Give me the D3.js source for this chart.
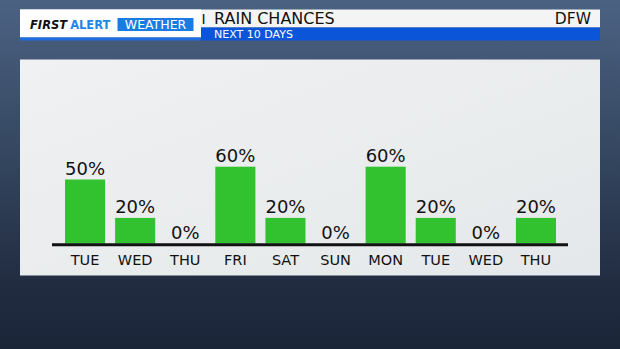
<!DOCTYPE html>
<meta charset="utf-8">
<style>
body { margin: 0; background: #2a3850; }
svg { display: block; font-family: "DejaVu Sans", sans-serif; }
</style>
<body>
<script src="https://d3js.org/d3.v7.min.js"></script>
<script>
    // data
    var days = ["TUE", "WED", "THU", "FRI", "SAT", "SUN", "MON", "TUE", "WED", "THU"];
    var chances = [50, 20, 0, 60, 20, 0, 60, 20, 0, 20];
    var title = "RAIN CHANCES";
    var subtitle = "NEXT 10 DAYS";
    var place = "DFW";

    var W = 620, H = 349;

    var svg = d3.select("body").append("svg")
        .attr("width", W)
        .attr("height", H);

    var defs = svg.append("defs");
    var bg = defs.append("linearGradient")
        .attr("id", "bg")
        .attr("x1", 0).attr("y1", 0).attr("x2", 0).attr("y2", 1);
    bg.append("stop").attr("offset", "0%").attr("stop-color", "#4c6283");
    bg.append("stop").attr("offset", "45%").attr("stop-color", "#34465f");
    bg.append("stop").attr("offset", "80%").attr("stop-color", "#222d42");
    bg.append("stop").attr("offset", "100%").attr("stop-color", "#1b2538");

    var panelGrad = defs.append("linearGradient")
        .attr("id", "panel")
        .attr("x1", 0).attr("y1", 0).attr("x2", 1).attr("y2", 1);
    panelGrad.append("stop").attr("offset", "0%").attr("stop-color", "#eff1f2");
    panelGrad.append("stop").attr("offset", "100%").attr("stop-color", "#e5e8ea");

    svg.append("rect")
        .attr("width", W)
        .attr("height", H)
        .attr("fill", "url(#bg)");

    // header bar
    svg.append("rect")
        .attr("x", 20).attr("y", 9.5)
        .attr("width", 580).attr("height", 18)
        .attr("fill", "#f4f4f4");
    svg.append("rect")
        .attr("x", 20).attr("y", 9.5)
        .attr("width", 181).attr("height", 28)
        .attr("fill", "#ffffff");
    svg.append("rect")
        .attr("x", 20).attr("y", 37.5)
        .attr("width", 181).attr("height", 3)
        .attr("fill", "#1a6ee0");
    svg.append("rect")
        .attr("x", 201).attr("y", 27.5)
        .attr("width", 399).attr("height", 13)
        .attr("fill", "#0b55d8");

    var logo = svg.append("text")
        .attr("x", 30)
        .attr("y", 28.5)
        .style("font-size", "11.5px")
        .style("font-weight", "bold");
    logo.append("tspan").attr("fill", "#111").style("font-style", "italic").text("FIRST");
    logo.append("tspan").attr("fill", "#1f86e6").attr("dx", 3).text("ALERT");

    svg.append("rect")
        .attr("x", 117.5).attr("y", 18)
        .attr("width", 76).attr("height", 13)
        .attr("fill", "#1a7be2");
    svg.append("text")
        .attr("x", 155.5)
        .attr("y", 29)
        .attr("text-anchor", "middle")
        .attr("fill", "#fff")
        .style("font-size", "12.5px")
        .text("WEATHER");

    svg.append("text")
        .attr("x", 201.5)
        .attr("y", 23.5)
        .attr("fill", "#111")
        .style("font-size", "14px")
        .text("I");
    svg.append("text")
        .attr("x", 214)
        .attr("y", 23.5)
        .attr("fill", "#111")
        .style("font-size", "16px")
        .text(title);
    svg.append("text")
        .attr("x", 591)
        .attr("y", 23.5)
        .attr("text-anchor", "end")
        .attr("fill", "#111")
        .style("font-size", "15.5px")
        .text(place);
    svg.append("text")
        .attr("x", 214)
        .attr("y", 37.5)
        .attr("fill", "#fff")
        .style("font-size", "11px")
        .text(subtitle);

    // chart panel
    svg.append("rect")
        .attr("x", 20).attr("y", 59.5)
        .attr("width", 580).attr("height", 216)
        .attr("fill", "url(#panel)");

    var x = d3.scaleBand()
        .domain(d3.range(days.length))
        .range([60, 561])
        .paddingInner(0.2)
        .paddingOuter(0.1);

    var y = d3.scaleLinear()
        .domain([0, 100])
        .range([243.5, 115.5]);

    svg.selectAll(".bar")
        .data(chances)
        .enter().append("rect")
        .attr("class", "bar")
        .attr("x", function(d, i) { return x(i); })
        .attr("y", function(d) { return y(d); })
        .attr("width", x.bandwidth())
        .attr("height", function(d) { return y(0) - y(d); })
        .attr("fill", "#33c22f");

    svg.append("line")
        .attr("x1", 52).attr("x2", 568)
        .attr("y1", y(0) + 1.3).attr("y2", y(0) + 1.3)
        .attr("stroke", "#111")
        .attr("stroke-width", 3);

    svg.selectAll(".pct")
        .data(chances)
        .enter().append("text")
        .attr("class", "pct")
        .attr("x", function(d, i) { return x(i) + x.bandwidth() / 2; })
        .attr("y", function(d) { return y(d) - 4.5; })
        .attr("text-anchor", "middle")
        .attr("fill", "#111")
        .style("font-size", "18px")
        .text(function(d) { return d + "%"; });

    svg.selectAll(".day")
        .data(days)
        .enter().append("text")
        .attr("class", "day")
        .attr("x", function(d, i) { return x(i) + x.bandwidth() / 2; })
        .attr("y", 265)
        .attr("text-anchor", "middle")
        .attr("fill", "#111")
        .style("font-size", "14.5px")
        .text(function(d) { return d; });
</script>
</body>
